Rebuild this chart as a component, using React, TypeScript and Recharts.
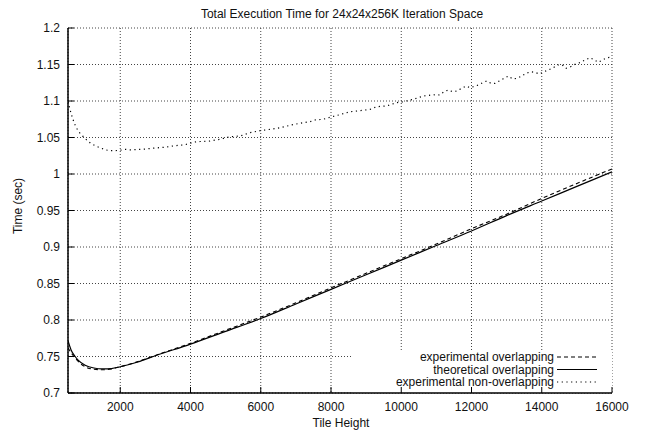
import React from 'react';
import { LineChart, Line, XAxis, YAxis, CartesianGrid, ReferenceArea, Legend } from 'recharts';

// ---- data ----
const OVL_TILE = [512, 600, 750, 900, 1000, 1250, 1500, 1750, 2000, 2500, 3000, 4000, 5000, 6000, 7000, 8000, 9000, 10000, 11000, 12000, 13000, 14000, 15000, 16000];
const EXP_OVL_TIME = [0.762, 0.755, 0.746, 0.739, 0.736, 0.7325, 0.7318, 0.733, 0.736, 0.743, 0.7515, 0.768, 0.786, 0.804, 0.8235, 0.844, 0.864, 0.884, 0.904, 0.925, 0.945, 0.9665, 0.987, 1.007];

const THEO_TILE = [512, 600, 700, 800, 1000, 1250, 1500, 1750, 2000, 2500, 3000, 4000, 5000, 6000, 7000, 8000, 9000, 10000, 11000, 12000, 13000, 14000, 15000, 16000];
const THEO_OVL_TIME = [0.7716, 0.759, 0.751, 0.745, 0.738, 0.7342, 0.733, 0.7335, 0.736, 0.7425, 0.751, 0.767, 0.7845, 0.802, 0.822, 0.842, 0.862, 0.882, 0.902, 0.922, 0.943, 0.963, 0.983, 1.003];

const NON_TILE = [512, 600, 691, 759, 834, 930, 1044, 1158, 1300, 1443, 1585, 1708, 1850, 1993, 2135, 2277, 2420, 2704, 2989, 3273, 3558, 3843, 3985, 4128, 4270, 4555, 4840, 5124, 5409, 5694, 5978, 6263, 6548, 6832, 7117, 7402, 7544, 7781, 7971, 8256, 8540, 8825, 9110, 9300, 9584, 9869, 10059, 10343, 10628, 10913, 11103, 11217, 11339, 11464, 11578, 11720, 11843, 11957, 12052, 12194, 12318, 12432, 12555, 12669, 12791, 12905, 13048, 13173, 13304, 13429, 13552, 13686, 13808, 13930, 14064, 14186, 14329, 14454, 14585, 14690, 14824, 14946, 15089, 15231, 15374, 15468, 15610, 15735, 15849, 16000];
const EXP_NON_TIME = [1.099, 1.083, 1.0695, 1.0626, 1.057, 1.052, 1.0466, 1.042, 1.0384, 1.0356, 1.033, 1.032, 1.032, 1.0325, 1.0338, 1.033, 1.0333, 1.0342, 1.0356, 1.0366, 1.0388, 1.0401, 1.042, 1.0438, 1.0445, 1.0452, 1.0475, 1.0511, 1.052, 1.0566, 1.0593, 1.0612, 1.0634, 1.0667, 1.0695, 1.0717, 1.074, 1.075, 1.0777, 1.0813, 1.0853, 1.0867, 1.0886, 1.0922, 1.0932, 1.0977, 1.099, 1.1023, 1.1068, 1.1086, 1.1082, 1.1127, 1.115, 1.1127, 1.1137, 1.1174, 1.1205, 1.1183, 1.1196, 1.1219, 1.1251, 1.1274, 1.1242, 1.1242, 1.1274, 1.1305, 1.1342, 1.1301, 1.1311, 1.1342, 1.1379, 1.1401, 1.1393, 1.137, 1.1401, 1.1425, 1.1456, 1.1493, 1.1493, 1.1448, 1.147, 1.1503, 1.1525, 1.1562, 1.1593, 1.1571, 1.153, 1.1562, 1.1593, 1.16];

const X_TICKS = [2000, 4000, 6000, 8000, 10000, 12000, 14000, 16000];
const Y_TICKS = [0.7, 0.75, 0.8, 0.85, 0.9, 0.95, 1, 1.05, 1.1, 1.15, 1.2];

const TITLE = 'Total Execution Time for 24x24x256K Iteration Space';
const X_LABEL = 'Tile Height';
const Y_LABEL = 'Time (sec)';

const SERIES = [
  { name: 'experimental overlapping', dash: '4 3' },
  { name: 'theoretical overlapping', dash: undefined as string | undefined },
  { name: 'experimental non-overlapping', dash: '1.2 3.5' },
];

const zip = (xs: number[], ys: number[]) => xs.map((x, i) => ({ x, y: ys[i] }));
const expOvl = zip(OVL_TILE, EXP_OVL_TIME);
const theoOvl = zip(THEO_TILE, THEO_OVL_TIME);
const expNon = zip(NON_TILE, EXP_NON_TIME);

const FONT = '"Liberation Sans", Arial, Helvetica, sans-serif';
const fmtY = (v: number) => String(parseFloat(v.toFixed(2)));

const renderLegend = () => (
  <svg width={260} height={40} style={{ display: 'block' }}>
    {SERIES.map((s, i) => {
      const cy = 6 + i * 12.5;
      return (
        <g key={s.name}>
          <text x={195} y={cy} textAnchor="end" dominantBaseline="central" fontSize={12} fontFamily={FONT} fill="#111">
            {s.name}
          </text>
          <line x1={198} x2={238} y1={cy} y2={cy} stroke="#000" strokeWidth={1.1} strokeDasharray={s.dash} />
        </g>
      );
    })}
  </svg>
);

export default function App() {
  const tickStyle = { fontSize: 12, fill: '#111', fontFamily: FONT };
  return (
    <div style={{ position: 'absolute', left: 0, top: 0, width: 645, height: 434, background: '#fff', fontFamily: FONT }}>
      <LineChart width={645} height={434} margin={{ top: 28, right: 33, bottom: 11, left: 8 }}>
        <CartesianGrid stroke="#444" strokeDasharray="1 2" strokeWidth={1} />
        <ReferenceArea x1={8600} x2={16000} y1={0.7} y2={0.7565} fill="#fff" fillOpacity={1} stroke="none" ifOverflow="hidden" />
        <XAxis
          dataKey="x"
          type="number"
          domain={[512, 16000]}
          ticks={X_TICKS}
          allowDataOverflow
          height={30}
          tickSize={-6}
          tickMargin={15}
          tick={tickStyle}
          axisLine={{ stroke: '#000', strokeWidth: 1.5 }}
          tickLine={{ stroke: '#000' }}
        />
        <XAxis
          xAxisId="top"
          orientation="top"
          dataKey="x"
          type="number"
          domain={[512, 16000]}
          ticks={X_TICKS}
          allowDataOverflow
          height={0}
          tickSize={-6}
          tick={false}
          axisLine={{ stroke: '#000', strokeWidth: 1.5 }}
          tickLine={{ stroke: '#000' }}
        />
        <YAxis
          type="number"
          domain={[0.7, 1.2]}
          ticks={Y_TICKS}
          allowDataOverflow
          width={60}
          tickSize={-6}
          tickMargin={14}
          tickFormatter={fmtY}
          tick={tickStyle}
          axisLine={{ stroke: '#000', strokeWidth: 1.5 }}
          tickLine={{ stroke: '#000' }}
        />
        <YAxis
          yAxisId="right"
          orientation="right"
          type="number"
          domain={[0.7, 1.2]}
          ticks={Y_TICKS}
          allowDataOverflow
          width={0}
          tickSize={-6}
          tick={false}
          axisLine={{ stroke: '#000', strokeWidth: 1.5 }}
          tickLine={{ stroke: '#000' }}
        />
        <Line data={expOvl} dataKey="y" name={SERIES[0].name} type="monotone" stroke="#000" strokeWidth={1.1} strokeDasharray={SERIES[0].dash} dot={false} isAnimationActive={false} />
        <Line data={theoOvl} dataKey="y" name={SERIES[1].name} type="monotone" stroke="#000" strokeWidth={1.2} dot={false} isAnimationActive={false} />
        <Line data={expNon} dataKey="y" name={SERIES[2].name} type="linear" stroke="#000" strokeWidth={1.2} strokeDasharray={SERIES[2].dash} dot={false} isAnimationActive={false} />
        <Legend
          layout="horizontal"
          verticalAlign="middle"
          align="center"
          content={renderLegend}
          wrapperStyle={{ position: 'absolute', left: 359, top: 351, width: 260, height: 40 }}
        />
      </LineChart>
      <div style={{ position: 'absolute', left: 142, top: 7, width: 400, textAlign: 'center', fontSize: 12, lineHeight: '14px', color: '#111', whiteSpace: 'nowrap' }}>
        {TITLE}
      </div>
      <div style={{ position: 'absolute', left: 18, top: 206, transform: 'translate(-50%, -50%) rotate(-90deg)', fontSize: 12, lineHeight: '14px', color: '#111', whiteSpace: 'nowrap' }}>
        {Y_LABEL}
      </div>
      <div style={{ position: 'absolute', left: 341, top: 423, transform: 'translate(-50%, -50%)', fontSize: 12, lineHeight: '14px', color: '#111', whiteSpace: 'nowrap' }}>
        {X_LABEL}
      </div>
    </div>
  );
}
